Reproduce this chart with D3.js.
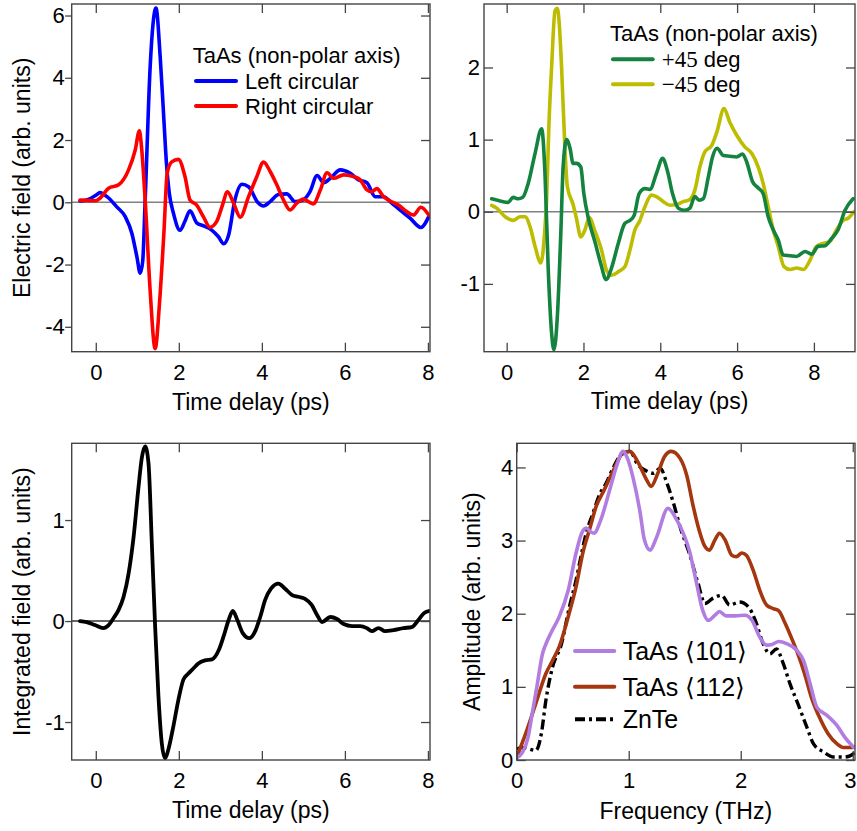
<!DOCTYPE html>
<html>
<head>
<meta charset="utf-8">
<script src="https://cdn.jsdelivr.net/npm/d3@7"></script>
<style>
  body { margin: 0; background: #fff; }
  svg { display: block; font-family: "Liberation Sans", Arial, sans-serif; }
</style>
</head>
<body>
<svg id="fig" width="857" height="831"></svg>
<script>
// ---- Electric field, circular polarisation (time in ps, field in arb. units)
const leftCircular = [
  [-0.38,0.04],[-0.2,0.08],[0.02,0.24],[0.1,0.31],[0.27,0.18],[0.5,-0.14],[0.71,-0.46],[0.87,-1.0],
  [0.99,-1.75],[1.07,-2.28],[1.13,-1.9],[1.19,0.07],[1.31,4.36],[1.45,6.24],[1.55,4.7],[1.63,2.9],
  [1.7,1.3],[1.77,0.3],[1.87,-0.35],[2.03,-0.9],[2.15,-0.6],[2.27,-0.27],[2.43,-0.66],[2.6,-0.76],
  [2.8,-0.9],[2.95,-1.1],[3.08,-1.33],[3.2,-1.05],[3.35,0.07],[3.52,0.58],[3.68,0.5],[3.9,0.0],
  [4.04,-0.12],[4.2,0.02],[4.4,0.25],[4.6,0.27],[4.8,0.02],[5.0,0.08],[5.16,0.34],[5.33,0.86],
  [5.49,0.63],[5.65,0.77],[5.89,1.04],[6.13,0.93],[6.33,0.72],[6.53,0.63],[6.73,0.18],[6.93,0.18],
  [7.13,-0.03],[7.33,-0.25],[7.57,-0.51],[7.83,-0.81],[8.02,-0.46]
];
const rightCircular = [
  [-0.38,0.07],[0.0,0.05],[0.1,0.13],[0.31,0.45],[0.55,0.56],[0.79,1.04],[0.95,1.68],[1.05,2.3],
  [1.1,1.8],[1.19,0.07],[1.31,-2.85],[1.43,-4.7],[1.54,-3.14],[1.64,-1.0],[1.72,0.93],[1.83,1.3],
  [1.99,1.38],[2.15,0.82],[2.27,0.07],[2.43,-0.09],[2.59,-0.46],[2.75,-0.8],[2.91,-0.62],[3.05,-0.1],
  [3.17,0.34],[3.32,-0.03],[3.48,-0.48],[3.68,0.18],[3.88,0.83],[4.04,1.29],[4.2,0.99],[4.36,0.56],
  [4.52,0.08],[4.68,-0.25],[4.84,-0.03],[5.0,0.1],[5.12,0.02],[5.24,-0.05],[5.41,0.4],[5.57,0.95],
  [5.73,0.77],[5.97,0.88],[6.2,0.83],[6.37,0.72],[6.53,0.4],[6.65,0.34],[6.77,0.44],[6.93,0.18],
  [7.09,0.04],[7.29,-0.09],[7.49,-0.3],[7.65,-0.41],[7.83,-0.16],[8.02,-0.41]
];

// ---- Electric field, linear polarisation at +/-45 deg
const plus45 = [
  [-0.39,0.18],[-0.17,0.15],[0.04,0.13],[0.17,0.2],[0.3,0.18],[0.42,0.2],[0.56,0.39],[0.74,0.81],
  [0.91,1.15],[1.0,0.5],[1.08,-0.76],[1.17,-1.68],[1.23,-1.91],[1.32,-1.45],[1.41,-0.3],[1.47,0.62],
  [1.56,1.0],[1.65,0.88],[1.73,0.67],[1.82,0.67],[1.93,0.62],[2.01,0.25],[2.13,-0.1],[2.3,-0.42],
  [2.45,-0.72],[2.59,-0.94],[2.73,-0.78],[2.9,-0.45],[3.08,-0.16],[3.21,-0.12],[3.32,-0.05],[3.45,0.25],
  [3.6,0.32],[3.73,0.31],[3.9,0.53],[4.06,0.74],[4.18,0.58],[4.32,0.25],[4.47,0.05],[4.64,0.02],
  [4.77,0.05],[4.9,0.21],[5.01,0.16],[5.12,0.18],[5.25,0.48],[5.36,0.76],[5.48,0.88],[5.64,0.78],
  [5.81,0.77],[5.99,0.76],[6.14,0.8],[6.25,0.69],[6.4,0.42],[6.55,0.33],[6.68,0.25],[6.81,-0.07],
  [6.94,-0.25],[7.07,-0.39],[7.2,-0.6],[7.38,-0.61],[7.55,-0.62],[7.77,-0.55],[7.94,-0.59],[8.11,-0.48],
  [8.29,-0.47],[8.46,-0.37],[8.63,-0.25],[8.81,0.02],[9.02,0.18]
];
const minus45 = [
  [-0.39,0.09],[-0.26,0.05],[-0.04,-0.07],[0.17,-0.12],[0.35,-0.07],[0.48,-0.07],[0.61,-0.21],[0.74,-0.48],
  [0.89,-0.71],[1.0,-0.2],[1.04,0.16],[1.1,1.2],[1.17,2.0],[1.26,2.79],[1.32,2.82],[1.37,2.6],
  [1.43,2.0],[1.52,0.85],[1.58,0.35],[1.73,0.1],[1.82,-0.1],[1.93,-0.35],[2.04,-0.25],[2.15,-0.08],
  [2.3,-0.27],[2.47,-0.53],[2.6,-0.81],[2.73,-0.88],[2.91,-0.83],[3.08,-0.76],[3.21,-0.53],[3.34,-0.25],
  [3.47,-0.12],[3.6,0.07],[3.77,0.23],[3.9,0.21],[4.08,0.14],[4.25,0.09],[4.42,0.1],[4.6,0.14],
  [4.77,0.17],[4.9,0.3],[5.03,0.62],[5.16,0.83],[5.34,0.92],[5.47,1.1],[5.66,1.43],[5.81,1.24],
  [5.99,1.06],[6.2,0.9],[6.38,0.81],[6.55,0.62],[6.68,0.39],[6.81,0.07],[6.94,-0.25],[7.07,-0.48],
  [7.22,-0.76],[7.38,-0.8],[7.55,-0.78],[7.73,-0.8],[7.9,-0.67],[8.07,-0.48],[8.24,-0.44],[8.42,-0.41],
  [8.59,-0.25],[8.76,-0.12],[8.89,-0.09],[9.04,0.0]
];

// ---- Integrated field
const integratedField = [
  [-0.38,0.0],[-0.22,-0.01],[-0.02,-0.04],[0.18,-0.07],[0.31,-0.04],[0.43,0.03],[0.55,0.11],[0.67,0.24],
  [0.79,0.47],[0.91,0.83],[1.03,1.33],[1.11,1.62],[1.19,1.73],[1.27,1.56],[1.35,0.77],[1.43,-0.06],
  [1.51,-0.75],[1.59,-1.21],[1.67,-1.36],[1.75,-1.27],[1.87,-1.04],[1.99,-0.78],[2.11,-0.58],[2.23,-0.52],
  [2.35,-0.47],[2.47,-0.42],[2.63,-0.39],[2.8,-0.38],[2.96,-0.29],[3.08,-0.15],[3.2,0.01],[3.3,0.1],
  [3.41,0.01],[3.54,-0.12],[3.7,-0.17],[3.84,-0.1],[3.96,0.04],[4.08,0.21],[4.22,0.32],[4.4,0.37],
  [4.56,0.32],[4.72,0.26],[4.88,0.24],[5.04,0.22],[5.2,0.16],[5.33,0.06],[5.45,-0.01],[5.65,0.04],
  [5.81,0.02],[5.97,-0.03],[6.17,-0.05],[6.37,-0.05],[6.53,-0.07],[6.65,-0.1],[6.81,-0.07],[6.97,-0.1],
  [7.17,-0.09],[7.41,-0.07],[7.61,-0.06],[7.77,0.01],[7.91,0.08],[8.04,0.1]
];

// ---- Spectral amplitude (frequency in THz)
const taas101 = [
  [0,0.03],[0.05,0.1],[0.1,0.3],[0.14,0.65],[0.18,1.0],[0.23,1.45],[0.27,1.62],[0.31,1.75],
  [0.38,1.96],[0.46,2.32],[0.53,2.83],[0.58,3.1],[0.62,3.17],[0.66,3.12],[0.69,3.1],[0.75,3.28],
  [0.83,3.69],[0.89,4.01],[0.95,4.22],[0.99,4.12],[1.04,3.85],[1.1,3.4],[1.14,3.01],[1.19,2.87],
  [1.25,3.05],[1.35,3.44],[1.43,3.28],[1.5,3.05],[1.54,2.87],[1.6,2.46],[1.66,2.05],[1.71,1.91],
  [1.77,1.98],[1.81,2.03],[1.87,1.97],[1.95,1.97],[2.04,1.98],[2.1,1.91],[2.17,1.68],[2.23,1.57],
  [2.28,1.58],[2.34,1.62],[2.41,1.59],[2.5,1.5],[2.56,1.36],[2.62,1.04],[2.68,0.72],[2.77,0.61],
  [2.86,0.47],[2.93,0.31],[3.01,0.17]
];
const taas112 = [
  [0,0.04],[0.08,0.36],[0.17,0.77],[0.26,1.18],[0.32,1.36],[0.38,1.55],[0.46,1.96],[0.53,2.37],
  [0.59,2.83],[0.65,3.15],[0.71,3.47],[0.78,3.69],[0.86,3.95],[0.95,4.2],[1.01,4.22],[1.08,4.08],
  [1.16,3.83],[1.2,3.74],[1.26,3.92],[1.32,4.15],[1.38,4.22],[1.46,4.12],[1.52,3.88],[1.57,3.51],
  [1.62,3.19],[1.68,2.92],[1.72,2.87],[1.77,3.01],[1.81,3.1],[1.86,3.01],[1.92,2.8],[1.96,2.78],
  [2.01,2.83],[2.05,2.8],[2.11,2.6],[2.17,2.32],[2.23,2.12],[2.29,2.07],[2.34,2.04],[2.39,1.89],
  [2.45,1.68],[2.51,1.45],[2.57,1.18],[2.63,0.86],[2.71,0.56],[2.78,0.36],[2.86,0.22],[2.92,0.17],
  [2.98,0.17],[3.02,0.18]
];
const znte = [
  [0,0.15],[0.05,0.17],[0.11,0.15],[0.17,0.13],[0.22,0.36],[0.26,0.81],[0.32,1.27],[0.4,1.59],
  [0.47,2.09],[0.53,2.46],[0.58,2.83],[0.62,3.1],[0.68,3.37],[0.74,3.63],[0.8,3.79],[0.86,3.99],
  [0.93,4.17],[1.01,4.22],[1.08,4.04],[1.16,3.95],[1.22,3.92],[1.28,3.99],[1.34,3.79],[1.4,3.51],
  [1.46,3.18],[1.54,2.83],[1.62,2.41],[1.68,2.14],[1.75,2.21],[1.83,2.25],[1.9,2.12],[1.99,2.16],
  [2.07,2.09],[2.13,1.91],[2.2,1.59],[2.26,1.45],[2.32,1.52],[2.37,1.36],[2.44,1.04],[2.51,0.77],
  [2.59,0.45],[2.65,0.22],[2.74,0.11],[2.83,0.04],[2.92,0.04],[2.98,0.06],[3.02,0.1]
];

// ---- Axis ticks and labels
const timeTicks = [0, 2, 4, 6, 8];
const fieldTicksA = [-4, -2, 0, 2, 4, 6];
const fieldTicksB = [-1, 0, 1, 2];
const integratedTicks = [-1, 0, 1];
const freqTicks = [0, 1, 2, 3];
const ampTicks = [0, 1, 2, 3, 4];
const legendTitle = "TaAs (non-polar axis)";
const circularNames = ["Left circular", "Right circular"];
const spectrumNames = ["TaAs \u27E8101\u27E9", "TaAs \u27E8112\u27E9", "ZnTe"];

const svg = d3.select("#fig");
svg.append("rect").attr("width", 857).attr("height", 831).attr("fill", "#fff");
const defs = svg.append("defs");

const FRAME = "#454545";

function drawPanel(cfg) {
  const b = cfg.box;
  const x = d3.scaleLinear().domain(cfg.xDomain).range([b.l, b.r]);
  const y = d3.scaleLinear().domain(cfg.yDomain).range([b.b, b.t]);
  const g = svg.append("g");

  defs.append("clipPath").attr("id", cfg.id)
    .append("rect").attr("x", b.l).attr("y", b.t)
    .attr("width", b.r - b.l).attr("height", b.b - b.t);

  // zero reference line
  g.append("line")
    .attr("x1", b.l).attr("x2", b.r)
    .attr("y1", y(0)).attr("y2", y(0))
    .attr("stroke", cfg.zeroColor).attr("stroke-width", 1.4);

  const line = d3.line().x(d => x(d[0])).y(d => y(d[1])).curve(d3.curveMonotoneX);
  const plot = g.append("g").attr("clip-path", `url(#${cfg.id})`);
  cfg.series.forEach(s => {
    plot.append("path").datum(s.data)
      .attr("d", line)
      .attr("fill", "none")
      .attr("stroke", s.color)
      .attr("stroke-width", s.width || 3.6)
      .attr("stroke-linejoin", "round")
      .attr("stroke-linecap", s.dash ? "butt" : "round")
      .attr("stroke-dasharray", s.dash || null);
  });

  // axes: labelled bottom/left, mirrored ticks on top/right
  const styleAxis = sel => {
    sel.select(".domain").remove();
    sel.selectAll(".tick line").attr("stroke", FRAME).attr("stroke-width", 1.3);
    sel.selectAll(".tick text")
      .attr("fill", "#000")
      .style("font-family", '"Liberation Sans", Arial, sans-serif')
      .style("font-size", "22px");
  };
  const bottom = g.append("g").attr("transform", `translate(0,${b.b})`)
    .call(d3.axisBottom(x).tickValues(cfg.xTicks).tickSize(-9).tickPadding(12.5).tickFormat(d3.format("d")))
    .call(styleAxis);
  // keep a label sitting on the figure's right edge inside the canvas
  bottom.selectAll(".tick text").each(function (d) {
    const sel = d3.select(this);
    if (x(d) + 7 > 856) sel.attr("text-anchor", "end").attr("x", 856 - x(d));
  });
  g.append("g").attr("transform", `translate(0,${b.t})`)
    .call(d3.axisTop(x).tickValues(cfg.xTicks).tickSize(-9).tickFormat(""))
    .call(styleAxis);
  g.append("g").attr("transform", `translate(${b.l},0)`)
    .call(d3.axisLeft(y).tickValues(cfg.yTicks).tickSize(cfg.leftTick).tickPadding(cfg.leftPad)
      .tickFormat(d => (d < 0 ? "-" : "") + Math.abs(d)))
    .call(styleAxis);
  g.append("g").attr("transform", `translate(${b.r},0)`)
    .call(d3.axisRight(y).tickValues(cfg.yTicks).tickSize(-9).tickFormat(""))
    .call(styleAxis);

  g.append("rect")
    .attr("x", b.l).attr("y", b.t)
    .attr("width", b.r - b.l).attr("height", b.b - b.t)
    .attr("fill", "none").attr("stroke", FRAME).attr("stroke-width", 1.4);

  // axis titles
  g.append("text")
    .attr("x", (b.l + b.r) / 2).attr("y", cfg.xTitleY)
    .attr("text-anchor", "middle").attr("font-size", 23)
    .text(cfg.xTitle);
  if (cfg.yTitle) {
    g.append("text")
      .attr("transform", `translate(${cfg.yTitleX},${(b.t + b.b) / 2}) rotate(-90)`)
      .attr("text-anchor", "middle").attr("font-size", 23)
      .text(cfg.yTitle);
  }
  return { x, y, g };
}

// Top-left: circular polarisation
const pA = drawPanel({
  id: "clipA", box: { l: 71.7, r: 430, t: 4, b: 351.7 },
  xDomain: [-0.58, 8.05], yDomain: [-4.8, 6.37],
  xTicks: timeTicks, yTicks: fieldTicksA, leftTick: 6.5, leftPad: 0.5,
  zeroColor: "#808080",
  series: [
    { data: leftCircular, color: "#0000ff" },
    { data: rightCircular, color: "#ff0000" }
  ],
  xTitle: "Time delay (ps)", xTitleY: 410,
  yTitle: "Electric field (arb. units)", yTitleX: 29.5
});

// Top-right: linear polarisation at +/-45 deg
const pB = drawPanel({
  id: "clipB", box: { l: 484, r: 855, t: 4, b: 351.7 },
  xDomain: [-0.59, 9.07], yDomain: [-1.94, 2.88],
  xTicks: timeTicks, yTicks: fieldTicksB, leftTick: -9, leftPad: 4,
  zeroColor: "#808080",
  series: [
    { data: minus45, color: "#bcbc00" },
    { data: plus45, color: "#13833f" }
  ],
  xTitle: "Time delay (ps)", xTitleY: 409
});

// Bottom-left: integrated field
const pC = drawPanel({
  id: "clipC", box: { l: 71.7, r: 430, t: 443.3, b: 760 },
  xDomain: [-0.58, 8.05], yDomain: [-1.376, 1.76],
  xTicks: timeTicks, yTicks: integratedTicks, leftTick: 6.5, leftPad: 0.5,
  zeroColor: "#333",
  series: [{ data: integratedField, color: "#000", width: 3.8 }],
  xTitle: "Time delay (ps)", xTitleY: 818,
  yTitle: "Integrated field (arb. units)", yTitleX: 29.5
});

// Bottom-right: spectra
const pD = drawPanel({
  id: "clipD", box: { l: 516.7, r: 855, t: 443.3, b: 760 },
  xDomain: [0, 3.02], yDomain: [0, 4.33],
  xTicks: freqTicks, yTicks: ampTicks, leftTick: -9, leftPad: 3.5,
  zeroColor: "none",
  series: [
    { data: znte, color: "#000", dash: "10,4,3,4", width: 3.4 },
    { data: taas112, color: "#a4370f" },
    { data: taas101, color: "#b27de0" }
  ],
  xTitle: "Frequency (THz)", xTitleY: 819,
  yTitle: "Amplitude (arb. units)", yTitleX: 480
});

// ---- legends
function legendRow(x1, x2, yLine, color, dash) {
  svg.append("line").attr("x1", x1).attr("x2", x2).attr("y1", yLine).attr("y2", yLine)
    .attr("stroke", color).attr("stroke-width", 4)
    .attr("stroke-linecap", dash ? "butt" : "round")
    .attr("stroke-dasharray", dash || null);
}

// top-left legend
svg.append("text").attr("x", 192.7).attr("y", 63.3).attr("font-size", 22).text(legendTitle);
[["#0000ff", 81], ["#ff0000", 106]].forEach(([c, yy], i) => {
  legendRow(196, 236, yy, c);
  svg.append("text").attr("x", 245).attr("y", yy + 7.5).attr("font-size", 22).text(circularNames[i]);
});

// top-right legend
svg.append("text").attr("x", 610).attr("y", 40.7).attr("font-size", 22).text(legendTitle);
[["#13833f", 59.3, "+45"], ["#bcbc00", 84.3, "\u221245"]].forEach(([c, yy, ang]) => {
  legendRow(613, 652.7, yy, c);
  const t = svg.append("text").attr("x", 661.7).attr("y", yy + 7.4).attr("font-size", 22);
  t.append("tspan").style("font-family", '"Liberation Serif", "Times New Roman", serif').attr("font-size", 23).text(ang);
  t.append("tspan").text(" deg");
});

// bottom-right legend
[["#b27de0", 651, null], ["#a4370f", 686.7, null], ["#000", 719.3, "10,4,3,4"]].forEach(([c, yy, dash], i) => {
  legendRow(575, 614.3, yy, c, dash);
  svg.append("text").attr("x", 622.7).attr("y", yy + 9).attr("font-size", 25).text(spectrumNames[i]);
});
</script>
</body>
</html>
